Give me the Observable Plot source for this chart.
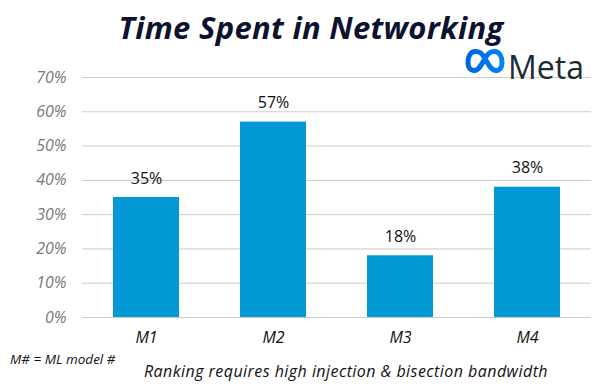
<!DOCTYPE html>
<html><head><meta charset="utf-8">
<script src="https://cdn.jsdelivr.net/npm/d3@7"></script>
<script src="https://cdn.jsdelivr.net/npm/@observablehq/plot@0.6"></script>
<style>
body{margin:0;background:#fff;font-family:"Open Sans",sans-serif;}
#wrap{position:relative;width:612px;height:388px;overflow:hidden;}
#chart{position:absolute;left:0;top:0;}
#title{position:absolute;left:0;width:612px;top:6px;line-height:1;text-align:center;font:italic 700 31px "Open Sans",sans-serif;letter-spacing:0.3px;color:#0c1230;padding-left:10px;box-sizing:border-box;}
#mark{position:absolute;left:465px;top:48px;}
#metatext{position:absolute;left:508px;top:45px;line-height:1;font:400 32px "Open Sans",sans-serif;color:#1c2b33;}
#note{position:absolute;left:10px;top:350px;line-height:1;font:italic 13.5px "Open Sans",sans-serif;color:#111;}
#sub{position:absolute;left:0;width:612px;padding-left:80px;box-sizing:border-box;text-align:center;top:360px;line-height:1;font:italic 16px "Open Sans",sans-serif;letter-spacing:0.45px;color:#111;}
</style></head>
<body><div id="wrap">
<div id="chart"></div>
<div id="title">Time Spent in Networking</div>
<svg id="mark" width="40" height="26" viewBox="0 0 40 26"><defs><linearGradient id="g" x1="0" x2="1"><stop offset="0" stop-color="#0064e0"/><stop offset="1" stop-color="#0082fb"/></linearGradient></defs><path d="M10.5 3.5 C4.5 3.5 3 10 3 14.5 C3 19.5 5.5 22.5 9.5 22.5 C14 22.5 16.5 16.5 20 10.5 C23.5 4.5 25.5 3.5 29.5 3.5 C35 3.5 37 9.5 37 14.5 C37 19.5 34.5 22.5 31 22.5 C26 22.5 23.5 16.5 20 10.5 C16.5 4.5 14.5 3.5 10.5 3.5 Z" fill="none" stroke="url(#g)" stroke-width="5"/></svg>
<div id="metatext">Meta</div>
<div id="note">M# = ML model #</div>
<div id="sub">Ranking requires high injection &amp; bisection bandwidth</div>
</div>
<script>
const models = ["M1", "M2", "M3", "M4"];
const shares = [0.35, 0.57, 0.18, 0.38];
const yTicks = [0, 0.1, 0.2, 0.3, 0.4, 0.5, 0.6, 0.7];
const data = models.map((m, i) => ({model: m, share: shares[i]}));
const pct = d3.format(".0%");
const plot = Plot.plot({
  width: 612, height: 388,
  marginLeft: 82, marginRight: 21, marginTop: 77, marginBottom: 71,
  style: {fontFamily: "Open Sans, sans-serif", background: "transparent"},
  x: {domain: models, paddingInner: 0.48, paddingOuter: 0.24, label: null},
  y: {domain: [0, 0.7], label: null},
  marks: [
    Plot.gridY(yTicks, {stroke: "#cccccc", strokeOpacity: 1, strokeWidth: 1}),
    Plot.barY(data, {x: "model", y: "share", fill: "#0399d6"}),
    Plot.text(data, {x: "model", y: "share", text: d => pct(d.share), dy: -19, fontSize: 16, fill: "#111"}),
    Plot.axisY(yTicks, {tickFormat: pct, tickSize: 0, tickPadding: 16, fontSize: 16, fontStyle: "italic", fill: "#7a7a7a", label: null}),
    Plot.axisX({tickSize: 0, tickPadding: 14, fontSize: 16, fontStyle: "italic", fill: "#111", label: null})
  ]
});
document.getElementById("chart").appendChild(plot);
</script>
</body></html>
